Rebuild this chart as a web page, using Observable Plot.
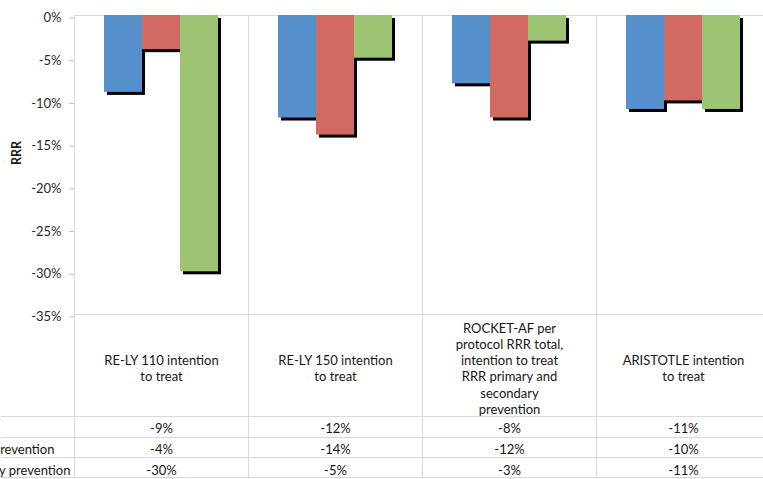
<!DOCTYPE html>
<html><head><meta charset="utf-8">
<script src="https://cdn.jsdelivr.net/npm/d3@7"></script>
<script src="https://cdn.jsdelivr.net/npm/@observablehq/plot@0.6"></script>
<style>html,body{margin:0;padding:0;background:#fff;overflow:hidden}</style>
</head><body><div id="chart"></div>
<script>
// ---- data ----
const categories = [
  "RE-LY 110 intention\nto treat",
  "RE-LY 150 intention\nto treat",
  "ROCKET-AF per\nprotocol RRR total,\nintention to treat\nRRR primary and\nsecondary\nprevention",
  "ARISTOTLE intention\nto treat"
];
const series = ["RRR total", "RRR primary prevention", "RRR secondary prevention"];
const rrrTotal = [-9, -12, -8, -11];
const rrrPrimary = [-4, -14, -12, -10];
const rrrSecondary = [-30, -5, -3, -11];
const yTicks = [0, -5, -10, -15, -20, -25, -30, -35];

// ---- styling / layout ----
const palette = ["#5590cc", "#d06a63", "#9cc472"];
const valuesBySeries = [rrrTotal, rrrPrimary, rrrSecondary];
const data = series.flatMap((s, j) =>
  categories.map((c, i) => ({category: c, series: s, value: valuesBySeries[j][i]})));

const W = 763, H = 479, mTop = 15, mLeft = 73, plotBottom = 314;
const pxPerUnit = (plotBottom - mTop) / 35;
const yAt = px => -35 - (px - plotBottom) / pxPerUnit;
const lineColor = "#d9d9d9";
const textColor = "#161616";
const fs = 13;
const firstFacet = () => categories[0];
const rowLines = [416, 437, 457, 477].map(yAt);
const rowTextDy = [114, 135, 156];
const labelEnds = [-20, 53, 69]; // where each (left-cropped) row label ends

const marks = [
  Plot.ruleY([0], {stroke: lineColor}),
  Plot.ruleY([-35], {stroke: lineColor}),
  Plot.ruleY(rowLines, {stroke: lineColor}),
  Plot.ruleY(rowLines, {fx: firstFacet, stroke: lineColor, insetLeft: -mLeft}),
  Plot.frame({anchor: "left", stroke: lineColor, insetBottom: -(477 - plotBottom)}),
  Plot.axisY({ticks: yTicks, tickFormat: d => d + "%", tickSize: 5, tickPadding: 8, dy: 2.5,
    stroke: "#bfbfbf", fill: "#2a2a2a", fontSize: fs, label: null}),
  Plot.text(["RRR"], {fx: firstFacet, frameAnchor: "left", dx: -58, rotate: -90,
    fontWeight: "bold", fontSize: 12.5, fill: textColor}),
  Plot.barY(data, {fx: "category", x: "series", y: "value", fill: "black", dx: 3, dy: 3}),
  Plot.barY(data, {fx: "category", x: "series", y: "value", fill: "series"}),
  Plot.text(categories, {fx: d => d, text: d => d, frameAnchor: "bottom", dy: 53.5,
    lineAnchor: "middle", lineHeight: 1.25, fontSize: fs, fill: textColor}),
  ...series.map((s, j) => Plot.text(data.filter(d => d.series === s), {
    fx: "category", text: d => d.value + "%", frameAnchor: "bottom", dy: rowTextDy[j],
    lineAnchor: "middle", fontSize: fs, fill: textColor})),
  ...series.map((s, j) => Plot.text([s], {
    fx: firstFacet, text: d => d, frameAnchor: "bottom-left", textAnchor: "end",
    dx: labelEnds[j] - mLeft, dy: rowTextDy[j], lineAnchor: "middle", fontSize: fs, fill: textColor}))
];

const chart = Plot.plot({
  width: W, height: H,
  marginTop: mTop, marginLeft: mLeft, marginRight: -8, marginBottom: H - plotBottom,
  style: {fontFamily: "Lato, 'Open Sans', sans-serif", fontSize: fs + "px", background: "white", overflow: "hidden"},
  fx: {domain: categories, padding: 0, axis: null},
  x: {domain: series, paddingInner: 0, paddingOuter: 0.766, axis: null},
  y: {domain: [-35, 0], axis: null},
  color: {domain: series, range: palette},
  marks
});
document.getElementById("chart").appendChild(chart);
</script>
</body></html>
